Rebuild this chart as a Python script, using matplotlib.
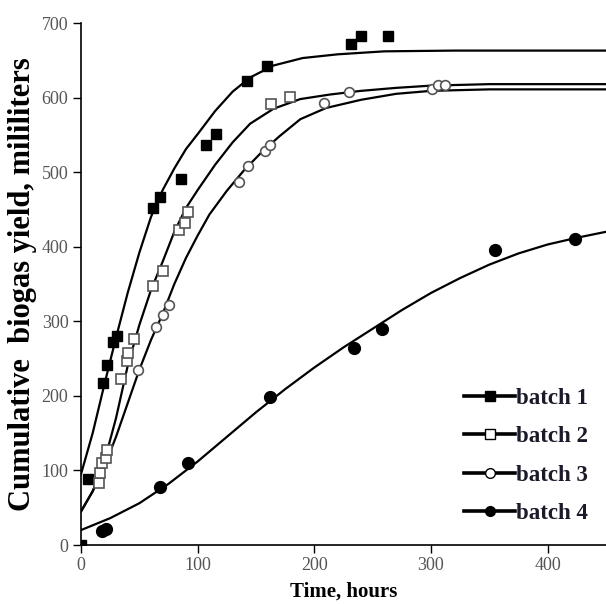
import matplotlib
matplotlib.use("Agg")
import matplotlib.pyplot as plt

plt.rcParams["font.family"] = ["Liberation Serif", "DejaVu Serif"]

# measured points
b1_t = [0, 6, 19, 22, 27, 31, 62, 68, 86, 107, 116, 142, 159, 231, 240, 263]
b1_y = [0, 88, 217, 242, 272, 280, 452, 466, 491, 537, 551, 622, 642, 672, 682, 682]

b2_t = [15, 16, 18, 21, 22, 34, 39, 40, 45, 62, 70, 84, 89, 92, 163, 179]
b2_y = [83, 96, 110, 117, 127, 222, 247, 257, 276, 347, 367, 422, 432, 447, 591, 601]

b3_t = [49, 64, 70, 75, 135, 143, 158, 162, 208, 230, 301, 306, 312]
b3_y = [235, 293, 309, 322, 487, 508, 528, 537, 593, 608, 612, 617, 617]

b4_t = [18, 21, 68, 92, 162, 234, 258, 355, 423]
b4_y = [19, 21, 78, 110, 199, 264, 289, 396, 411]

# fitted curves
f1_t = [0, 10, 20, 30, 40, 50, 60, 70, 80, 90, 100, 115, 130, 145, 165, 190, 220, 260, 320, 450]
f1_y = [95, 150, 215, 278, 338, 392, 440, 476, 505, 531, 551, 582, 608, 627, 643, 653, 658, 662, 663, 663]

f2_t = [0, 10, 20, 30, 40, 50, 60, 70, 80, 90, 100, 115, 130, 145, 165, 188, 213, 240, 270, 300, 350, 450]
f2_y = [45, 72, 112, 170, 240, 295, 342, 380, 420, 452, 476, 510, 540, 565, 585, 598, 604, 609, 613, 616, 618, 618]

f3_t = [0, 10, 20, 30, 40, 50, 60, 70, 80, 90, 100, 110, 125, 140, 155, 170, 188, 210, 240, 270, 300, 350, 450]
f3_y = [45, 72, 105, 145, 190, 235, 275, 310, 350, 385, 415, 443, 475, 503, 527, 548, 571, 586, 597, 605, 609, 611, 611]

f4_t = [0, 25, 50, 75, 100, 125, 150, 175, 200, 225, 250, 275, 300, 325, 350, 375, 400, 425, 450]
f4_y = [20, 36, 56, 82, 112, 145, 178, 209, 238, 265, 290, 315, 338, 358, 376, 391, 403, 412, 420]

labels = ["batch 1", "batch 2", "batch 3", "batch 4"]
x_ticks = [0, 100, 200, 300, 400]
y_ticks = [0, 100, 200, 300, 400, 500, 600, 700]

W, H = 606, 604
fig = plt.figure(figsize=(W / 100, H / 100), dpi=100)
ax = fig.add_axes([81 / W, (H - 545) / H, (W - 81) / W, (545 - 23) / H])

gray = "#555555"
ms = 7
for ft, fy in [(f1_t, f1_y), (f2_t, f2_y), (f3_t, f3_y), (f4_t, f4_y)]:
    ax.plot(ft, fy, color="black", lw=1.6, zorder=2)

ax.plot(b1_t, b1_y, ls="none", marker="s", ms=ms, mfc="black", mec="black", zorder=3)
ax.plot(b2_t, b2_y, ls="none", marker="s", ms=ms, mfc="white", mec=gray, mew=1.2, zorder=3)
ax.plot(b3_t, b3_y, ls="none", marker="o", ms=ms, mfc="white", mec=gray, mew=1.2, zorder=3)
ax.plot(b4_t, b4_y, ls="none", marker="o", ms=ms + 1.5, mfc="black", mec="black", zorder=3)

# legend handles: line with marker
handles = []
for mk, fc in [("s", "black"), ("s", "white"), ("o", "white"), ("o", "black")]:
    h, = ax.plot([], [], color="black", lw=2.6, marker=mk, ms=7,
                 mfc=fc, mec="black", mew=1.0)
    handles.append(h)
leg = ax.legend(handles, labels, loc="lower right", bbox_to_anchor=(1.005, 0.0),
                frameon=False, handlelength=2.2, handletextpad=0.05,
                labelspacing=0.76, prop={"weight": "bold", "size": 16.5})
for t in leg.get_texts():
    t.set_color("#1a1a2a")

ax.set_xlim(0, 450)
ax.set_ylim(0, 700)
ax.set_xticks(x_ticks)
ax.set_yticks(y_ticks)
ax.spines["top"].set_visible(False)
ax.spines["right"].set_visible(False)
for s in ["left", "bottom"]:
    ax.spines[s].set_linewidth(1.2)
ax.tick_params(direction="out", length=6, width=1.0, labelsize=13,
               labelcolor="#555555", pad=3)

ax.set_xlabel("Time, hours", fontsize=15, fontweight="bold", labelpad=5)
ax.set_ylabel("Cumulative  biogas yield, mililiters", fontsize=22,
              fontweight="bold", labelpad=3)

fig.savefig("out.png", dpi=100)
